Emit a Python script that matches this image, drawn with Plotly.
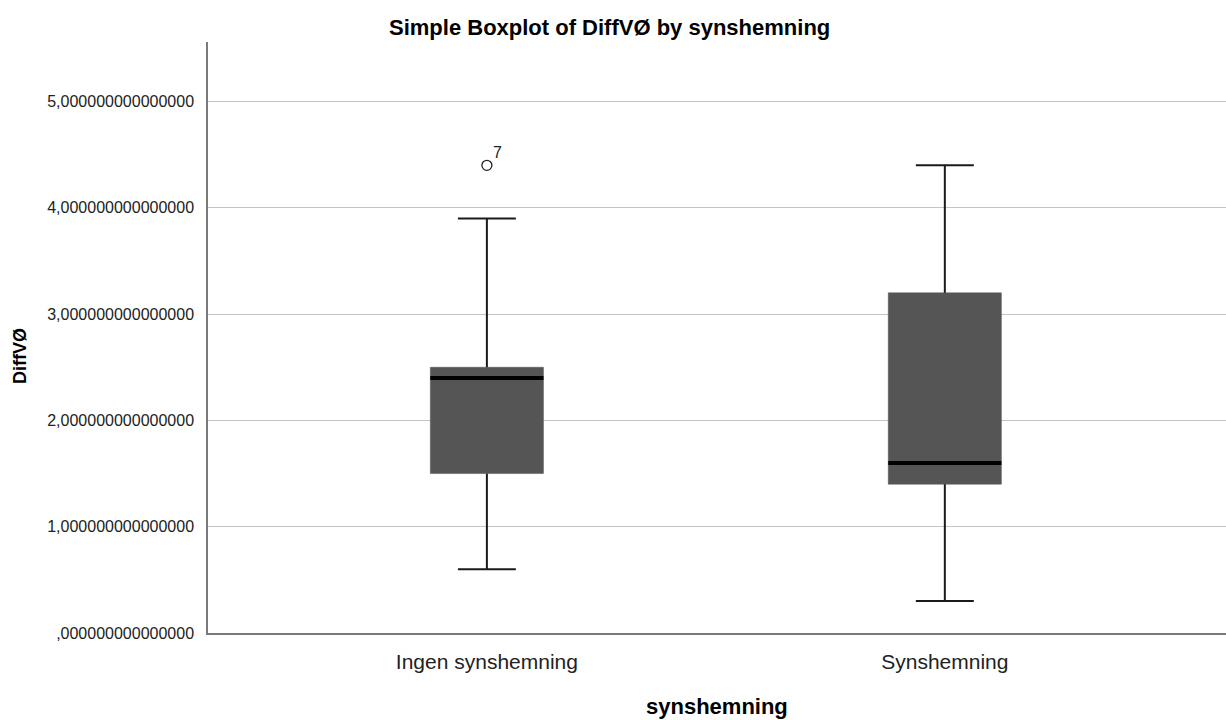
import plotly.graph_objects as go

# ---- data ----
categories = ["Ingen synshemning", "Synshemning"]
q1_vals = [1.5, 1.4]
median_vals = [2.4, 1.6]
q3_vals = [2.5, 3.2]
lower_whisker = [0.6, 0.3]
upper_whisker = [3.9, 4.4]
outlier_group = [0]
outlier_vals = [4.4]
outlier_labels = ["7"]
y_tick_vals = [0, 1, 2, 3, 4, 5]
y_tick_text = [",000000000000000", "1,000000000000000", "2,000000000000000",
               "3,000000000000000", "4,000000000000000", "5,000000000000000"]

# ---- style ----
FONT = "Liberation Sans, Arial, sans-serif"
BOX_FILL = "#555555"
BOX_W = 0.247
CAP_HALF = 0.0633

positions = list(range(len(categories)))
fig = go.Figure()

for i, p in enumerate(positions):
    fig.add_trace(go.Box(
        x=[p], q1=[q1_vals[i]], median=[median_vals[i]], q3=[q3_vals[i]],
        lowerfence=[q1_vals[i]], upperfence=[q3_vals[i]],
        width=BOX_W, fillcolor=BOX_FILL, line=dict(color=BOX_FILL, width=0.5),
        boxpoints=False, showlegend=False, hoverinfo="skip", whiskerwidth=0,
    ))
    # whiskers
    wx = [p, p, None, p - CAP_HALF, p + CAP_HALF, None,
          p, p, None, p - CAP_HALF, p + CAP_HALF]
    wy = [q3_vals[i], upper_whisker[i], None, upper_whisker[i], upper_whisker[i], None,
          q1_vals[i], lower_whisker[i], None, lower_whisker[i], lower_whisker[i]]
    fig.add_trace(go.Scatter(x=wx, y=wy, mode="lines",
                             line=dict(color="#1a1a1a", width=2),
                             showlegend=False, hoverinfo="skip"))
    # median
    fig.add_trace(go.Scatter(x=[p - BOX_W / 2, p + BOX_W / 2],
                             y=[median_vals[i], median_vals[i]], mode="lines",
                             line=dict(color="#000000", width=4),
                             showlegend=False, hoverinfo="skip"))

# outliers
fig.add_trace(go.Scatter(
    x=[positions[g] for g in outlier_group], y=outlier_vals, mode="markers",
    marker=dict(symbol="circle-open", size=10, color="#222222", line=dict(width=1.3)),
    showlegend=False, hoverinfo="skip"))
for g, v, lab in zip(outlier_group, outlier_vals, outlier_labels):
    fig.add_annotation(x=positions[g], y=v, text=lab, showarrow=False,
                       xshift=11, yshift=13,
                       font=dict(family=FONT, size=16, color="#222222"))

# titles as annotations
fig.add_annotation(xref="paper", yref="paper", x=(609 - 208) / 1018, y=1.0,
                   yshift=0, text="<b>Simple Boxplot of DiffVØ by synshemning</b>",
                   showarrow=False, yanchor="bottom", xanchor="center",
                   font=dict(family=FONT, size=22, color="#000000"))
fig.add_annotation(xref="paper", yref="paper", x=0.5, y=0, yshift=-73,
                   text="<b>synshemning</b>", showarrow=False,
                   xanchor="center", yanchor="middle",
                   font=dict(family=FONT, size=22, color="#000000"))
fig.add_annotation(xref="paper", yref="paper", x=0, xshift=-188,
                   y=(633 - 356) / 591, text="<b>DiffVØ</b>", showarrow=False,
                   textangle=-90, xanchor="center", yanchor="middle",
                   font=dict(family=FONT, size=18, color="#000000"))

fig.update_layout(
    width=1226, height=720,
    margin=dict(l=208, r=0, t=42, b=87),
    paper_bgcolor="white", plot_bgcolor="white",
    font=dict(family=FONT, color="#000000"),
    xaxis=dict(
        range=[-0.609, 1.614], tickmode="array", tickvals=positions,
        ticktext=categories, showgrid=False, zeroline=False,
        showline=True, linecolor="#7a7a7a", linewidth=1.5,
        ticks="", ticklabelstandoff=9,
        tickfont=dict(family=FONT, size=21, color="#222222"),
    ),
    yaxis=dict(
        range=[0, 5.56], tickmode="array", tickvals=y_tick_vals,
        ticktext=y_tick_text, showgrid=True, gridcolor="#c4c4c4", gridwidth=1,
        zeroline=False, showline=True, linecolor="#7a7a7a", linewidth=1.5,
        ticks="", ticklabelstandoff=9,
        tickfont=dict(family=FONT, size=16, color="#222222"),
    ),
)

fig.write_html("out.html")
